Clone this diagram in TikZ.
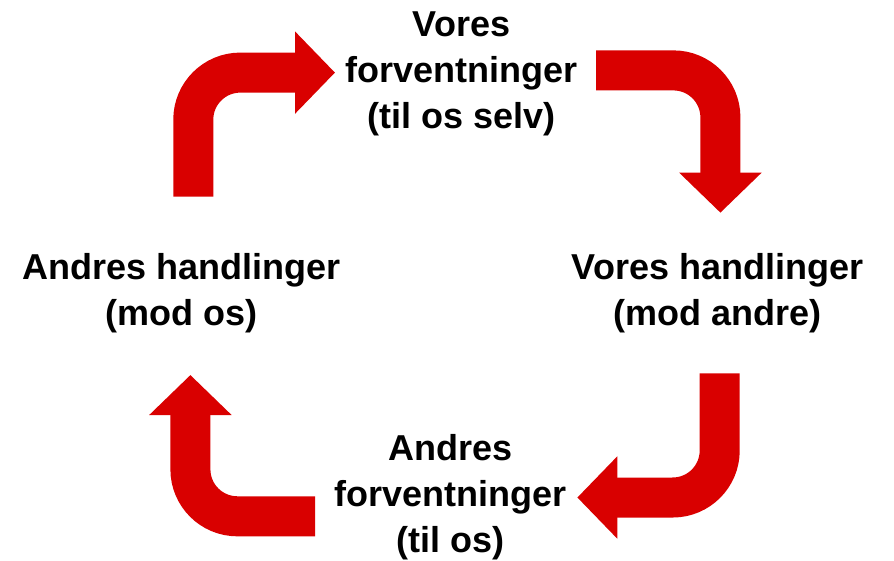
\documentclass[tikz,border=0pt]{standalone}
\usepackage{fontspec}
\setmainfont{Liberation Sans}
\usetikzlibrary{arrows.meta}
\definecolor{pilrod}{RGB}{217,0,0}
\begin{document}
\begin{tikzpicture}[x=1pt, y=-1pt]
\tikzstyle{mytext} = [align=center, inner sep=0pt, anchor=base, font=\fontsize{36}{46}\selectfont\bfseries] % tekst, base = sidste linje
\tikzstyle{mypil} = [draw=pilrod, line width=40pt, rounded corners=47pt, -{Triangle[width=80pt, length=40pt]}] % rød pil
\useasboundingbox (0,0) rectangle (894,560);
% tekster
\node[mytext] (vf) at (461.5,128) {Vores\\forventninger\\(til os selv)};
\node[mytext] (vh) at (717.5,325) {Vores handlinger\\(mod andre)};
\node[mytext] (af) at (450.8,552) {Andres\\forventninger\\(til os)};
\node[mytext] (ah) at (181.7,325) {Andres handlinger\\(mod os)};
% pilenes ender
\coordinate (p1a) at (193.3,196.7); \coordinate (p1b) at (335,72.6);
\coordinate (p2a) at (596,70.4);    \coordinate (p2b) at (720.4,212.7);
\coordinate (p3a) at (719.7,373.3); \coordinate (p3b) at (577.3,497.5);
\coordinate (p4a) at (315,516.3);   \coordinate (p4b) at (190.4,375);
\draw[mypil] (p1a) |- (p1b);
\draw[mypil] (p2a) -| (p2b);
\draw[mypil] (p3a) |- (p3b);
\draw[mypil] (p4a) -| (p4b);
\end{tikzpicture}
\end{document}
